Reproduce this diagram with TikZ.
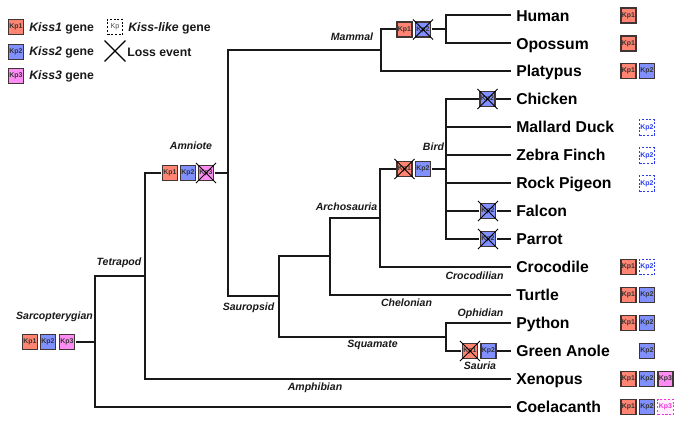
\documentclass[tikz,border=0pt]{standalone}
\usepackage{fontspec}
\setmainfont{Liberation Sans}
\usetikzlibrary{shapes.misc}
\definecolor{kpa}{HTML}{FF8472}
\definecolor{kpb}{HTML}{8090FF}
\definecolor{kpc}{HTML}{FF8CF2}
\definecolor{edge}{HTML}{403434}
\definecolor{likeb}{HTML}{2A3CF0}
\definecolor{likec}{HTML}{F030E0}
\definecolor{likecfill}{HTML}{FFF0FC}
\tikzset{
  x=0.75pt, y=-0.75pt,
  gene/.style={rectangle, draw=edge, line width=1pt, minimum size=11.4pt, inner sep=0pt,
    outer sep=1pt, font=\fontsize{5.2}{6}\bfseries, text=black!80},
  kpone/.style={gene, fill=kpa},
  kptwo/.style={gene, fill=kpb},
  kpthree/.style={gene, fill=kpc},
  liketwo/.style={gene, draw=likeb, text=likeb, fill=white, line width=0.8pt, dash pattern=on 1.6pt off 1.2pt},
  likethree/.style={gene, draw=likec, text=likec, fill=likecfill, line width=0.8pt, dash pattern=on 1.6pt off 1.2pt},
  likeplain/.style={gene, draw=black, text=black!70, fill=white, line width=0.8pt, dash pattern=on 1.6pt off 1.2pt,
    font=\fontsize{5.4}{6}\selectfont},
  loss/.style={cross out, draw=black, line width=0.7pt, minimum size=14.4pt, inner sep=0pt},
  branch/.style={draw=black!90, line width=1.5pt, line cap=butt, line join=miter},
  species/.style={anchor=west, inner xsep=3.75pt, inner ysep=0pt, text height=8.6pt, text depth=0pt,
    font=\fontsize{11.8}{13}\bfseries},
  clade/.style={font=\fontsize{7.9}{9}\bfseries\itshape, inner sep=0pt, text=black!90},
  keytext/.style={anchor=west, inner sep=0pt, font=\fontsize{9.2}{11}\bfseries, text=black!90},
}
\begin{document}
\begin{tikzpicture}
\useasboundingbox (0,0) rectangle (685,435);

% key
\node[kpone] (keyA) at (16,27) {Kp1};
\node[kptwo] (keyB) at (16,52) {Kp2};
\node[kpthree] (keyC) at (16,76) {Kp3};
\node[keytext] (keyAt) at (29,28) {\textit{Kiss1} gene};
\node[keytext] (keyBt) at (29,52.5) {\textit{Kiss2} gene};
\node[keytext] (keyCt) at (29,76.5) {\textit{Kiss3} gene};
\node[likeplain] (keyL) at (115,27) {Kp};
\node[keytext] (keyLt) at (128,28) {\textit{Kiss-like} gene};
\node[cross out, draw=black, line width=1pt, minimum size=14.6pt, inner sep=0pt] (keyX) at (115,51) {};
\node[keytext] (keyXt) at (127,52) {Loss event};

% taxa
\node[species] (Human) at (511,15.5) {Human};
\node[species] (Opossum) at (511,43.5) {Opossum};
\node[species] (Platypus) at (511,71) {Platypus};
\node[species] (Chicken) at (511,99) {Chicken};
\node[species] (Mallard) at (511,127) {Mallard Duck};
\node[species] (Zebra) at (511,155) {Zebra Finch};
\node[species] (Pigeon) at (511,183) {Rock Pigeon};
\node[species] (Falcon) at (511,211) {Falcon};
\node[species] (Parrot) at (511,239) {Parrot};
\node[species] (Crocodile) at (511,267) {Crocodile};
\node[species] (Turtle) at (511,295) {Turtle};
\node[species] (Python) at (511,323) {Python};
\node[species] (Anole) at (511,351) {Green Anole};
\node[species] (Xenopus) at (511,379) {Xenopus};
\node[species] (Coelacanth) at (511,407) {Coelacanth};

% ancestral gene sets on the branches
\node[kpone] (rA) at (30,342) {Kp1};
\node[kptwo] (rB) at (48,342) {Kp2};
\node[kpthree] (rC) at (67,342) {Kp3};
\node[kpone] (aA) at (170,173) {Kp1};
\node[kptwo] (aB) at (188,173) {Kp2};
\node[kpthree] (aC) at (206,173) {Kp3};
\node[loss] (aX) at (aC.center) {};
\node[kpone] (mA) at (404.5,29.5) {Kp1};
\node[kptwo] (mB) at (423,29.5) {Kp2};
\node[loss] (mX) at (mB.center) {};
\node[kptwo] (chB) at (487.5,99) {Kp2};
\node[loss] (chX) at (chB.center) {};
\node[kptwo] (faB) at (488,211) {Kp2};
\node[loss] (faX) at (faB.center) {};
\node[kptwo] (paB) at (488,239) {Kp2};
\node[loss] (paX) at (paB.center) {};
\node[kpone] (bA) at (404.5,169) {Kp1};
\node[kptwo] (bB) at (423,169) {Kp2};
\node[loss] (bX) at (bA.center) {};
\node[kpone] (sA) at (470,351) {Kp1};
\node[kptwo] (sB) at (488.5,351) {Kp2};
\node[loss] (sX) at (sA.center) {};

% branching points
\coordinate (nRoot) at (95,342);
\coordinate (nTetra) at (145,276);
\coordinate (nAmn) at (228,173);
\coordinate (nMam) at (381,50);
\coordinate (nHomi) at (446,29.5);
\coordinate (nSaur) at (279,296);
\coordinate (nArch) at (330,256);
\coordinate (nAves) at (380,218);
\coordinate (nBird) at (446,169);
\coordinate (nSqua) at (446,337);

% tree
\draw[branch] (rC) -- (nRoot);
\draw[branch] (nTetra) -| (nRoot) |- (Coelacanth.west);
\draw[branch] (aA.west) -| (nTetra) |- (Xenopus.west);
\draw[branch] (aC) -- (nAmn);
\draw[branch] (nMam) -| (nAmn) |- (nSaur);
\draw[branch] (mA.west) -| (nMam) |- (Platypus.west);
\draw[branch] (mB) -- (nHomi);
\draw[branch] (Human.west) -| (nHomi) |- (Opossum.west);
\draw[branch] (nArch) -| (nSaur) |- (nSqua);
\draw[branch] (nAves) -| (nArch) |- (Turtle.west);
\draw[branch] (bA.west) -| (nAves) |- (Crocodile.west);
\draw[branch] (bB) -- (nBird);
\draw[branch] (chB.west) -| (nBird) |- (paB.west);
\draw[branch] (nBird |- Mallard.west) -- (Mallard.west);
\draw[branch] (nBird |- Zebra.west) -- (Zebra.west);
\draw[branch] (nBird |- Pigeon.west) -- (Pigeon.west);
\draw[branch] (nBird |- faB.west) -- (faB.west);
\draw[branch] (chB) -- (Chicken.west);
\draw[branch] (faB) -- (Falcon.west);
\draw[branch] (paB) -- (Parrot.west);
\draw[branch] (Python.west) -| (nSqua) |- (sA.west);
\draw[branch] (sB) -- (Anole.west);

% clade names
\node[clade] (lMam) at (352,37) {Mammal};
\node[clade] (lAmn) at (191,146) {Amniote};
\node[clade] (lArc) at (346.5,207) {Archosauria};
\node[clade] (lBir) at (433.5,147) {Bird};
\node[clade] (lSau) at (248.5,308) {Sauropsid};
\node[clade] (lTet) at (119,263) {Tetrapod};
\node[clade] (lSar) at (54.5,317) {Sarcopterygian};
\node[clade] (lAmp) at (315,388) {Amphibian};
\node[clade] (lCro) at (474.5,276) {Crocodilian};
\node[clade] (lChe) at (406.5,303) {Chelonian};
\node[clade] (lSqu) at (372.5,345) {Squamate};
\node[clade] (lOph) at (480.5,314) {Ophidian};
\node[clade] (lSar2) at (480,366) {Sauria};

% gene sets of the living taxa
\node[kpone] (huA) at (628.5,15.5) {Kp1};
\node[kpone] (opA) at (628.5,43.5) {Kp1};
\node[kpone] (plA) at (628.5,71) {Kp1};
\node[kptwo] (plB) at (647,71) {Kp2};
\node[liketwo] (maB) at (647,127.5) {Kp2};
\node[liketwo] (zeB) at (647,155.5) {Kp2};
\node[liketwo] (piB) at (647,183.5) {Kp2};
\node[kpone] (crA) at (628.5,267) {Kp1};
\node[liketwo] (crB) at (647,267) {Kp2};
\node[kpone] (tuA) at (628.5,295) {Kp1};
\node[kptwo] (tuB) at (647,295) {Kp2};
\node[kpone] (pyA) at (628.5,323) {Kp1};
\node[kptwo] (pyB) at (647,323) {Kp2};
\node[kptwo] (anB) at (647,351) {Kp2};
\node[kpone] (xeA) at (628.5,379) {Kp1};
\node[kptwo] (xeB) at (647,379) {Kp2};
\node[kpthree] (xeC) at (665.5,379) {Kp3};
\node[kpone] (coA) at (628.5,407) {Kp1};
\node[kptwo] (coB) at (647,407) {Kp2};
\node[likethree] (coC) at (665.5,407) {Kp3};
\end{tikzpicture}
\end{document}
